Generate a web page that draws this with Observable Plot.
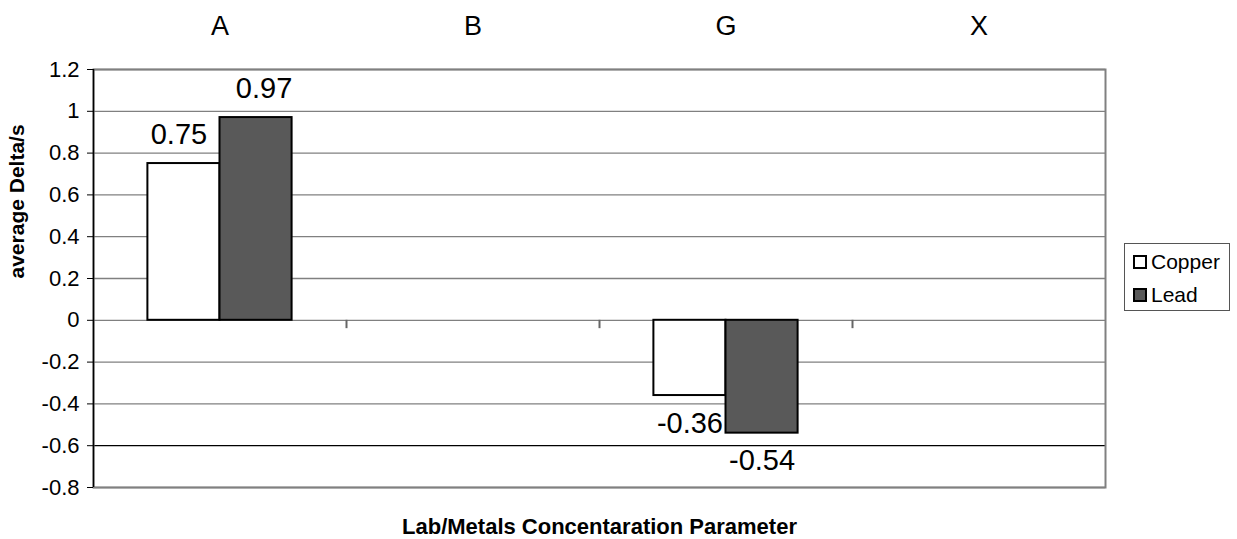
<!DOCTYPE html>
<html>
<head>
<meta charset="utf-8">
<script src="https://cdn.jsdelivr.net/npm/d3@7"></script>
<script src="https://cdn.jsdelivr.net/npm/@observablehq/plot@0.6"></script>
<style>
  html, body { margin: 0; padding: 0; background: #fff; }
  body { width: 1237px; height: 539px; position: relative; overflow: hidden; font-family: "Liberation Sans", Arial, sans-serif; }
  #chart { position: absolute; left: 0; top: 0; }
  #legend { position: absolute; left: 1124px; top: 243px; width: 104px; height: 66px; border: 1px solid #555; background: #fff; }
  .item { position: absolute; left: 8px; display: flex; align-items: center; font-size: 21px; color: #000; }
  .sw { width: 10px; height: 10px; border: 2px solid #000; margin-right: 4px; }
</style>
</head>
<body>
<div id="chart"></div>
<div id="legend"></div>
<script>
// ---- data ----
const categories = ["A", "B", "G", "X"];
const seriesNames = ["Copper", "Lead"];
const copper = [0.75, null, -0.36, null];
const lead = [0.97, null, -0.54, null];
const yTicks = [1.2, 1, 0.8, 0.6, 0.4, 0.2, 0, -0.2, -0.4, -0.6, -0.8];
const seriesColors = ["#ffffff", "#595959"];

// ---- table built from arrays ----
const barW = 0.285; // bar width in category units
const rows = [];
categories.forEach((c, i) => {
  [copper, lead].forEach((arr, s) => {
    const v = arr[i];
    if (v == null) return;
    const center = i + 0.5;
    rows.push({
      category: c, series: seriesNames[s], value: v,
      x1: s === 0 ? center - barW : center,
      x2: s === 0 ? center : center + barW,
      xm: s === 0 ? center - barW / 2 : center + barW / 2
    });
  });
});
const catPos = categories.map((c, i) => i + 0.5);
const boundaries = categories.slice(1).map((c, i) => i + 1);
const font = "Liberation Sans, Arial, sans-serif";
const labelOpts = { x: "xm", y: "value", text: d => String(d.value), lineAnchor: "bottom", fontSize: 29 };

const chart = Plot.plot({
  width: 1237,
  height: 539,
  marginLeft: 93,
  marginRight: 132,
  marginTop: 69,
  marginBottom: 52,
  style: { fontFamily: font, background: "#fff", color: "#000" },
  x: { type: "linear", domain: [0, categories.length] },
  y: { domain: [-0.8, 1.2] },
  color: { domain: seriesNames, range: seriesColors },
  marks: [
    Plot.ruleY(yTicks, { stroke: d => (d === -0.6 ? "#000" : "#808080"), strokeWidth: 1.3 }),
    Plot.frame({ stroke: "#808080", strokeWidth: 2 }),
    Plot.ruleX(boundaries, { y1: 0, y2: -0.04, stroke: "#666", strokeWidth: 2 }),
    Plot.ruleX([0], { stroke: "#000", strokeWidth: 1.5 }),
    Plot.rectY(rows, { x1: "x1", x2: "x2", y1: 0, y2: "value", fill: "series", stroke: "#000", strokeWidth: 2 }),
    Plot.text(rows.filter(d => d.value >= 0 && d.series === "Copper"), { ...labelOpts, dy: -20, dx: -5 }),
    Plot.text(rows.filter(d => d.value >= 0 && d.series === "Lead"), { ...labelOpts, dy: -20, dx: 8 }),
    Plot.text(rows.filter(d => d.value < 0), { ...labelOpts, dy: 37 }),
    Plot.axisY({ ticks: yTicks, tickFormat: d => String(d), tickSize: 6, tickPadding: 8, fontSize: 22, label: null, stroke: "#000" }),
    Plot.axisX({ anchor: "top", ticks: catPos, tickFormat: d => categories[Math.round(d - 0.5)], tickSize: 0, tickPadding: 35, fontSize: 27, label: null }),
    Plot.text(["average Delta/s"], { frameAnchor: "left", rotate: -90, dx: -76, fontWeight: "bold", fontSize: 21 }),
    Plot.text(["Lab/Metals Concentaration Parameter"], { frameAnchor: "bottom", lineAnchor: "bottom", dy: 46, fontWeight: "bold", fontSize: 22 })
  ]
});
document.getElementById("chart").appendChild(chart);

const legend = document.getElementById("legend");
seriesNames.forEach((s, i) => {
  const it = document.createElement("div");
  it.className = "item";
  it.style.top = (i === 0 ? 6 : 39) + "px";
  const sw = document.createElement("div");
  sw.className = "sw";
  sw.style.background = seriesColors[i];
  const t = document.createElement("span");
  t.textContent = s;
  it.appendChild(sw); it.appendChild(t);
  legend.appendChild(it);
});
</script>
</body>
</html>
